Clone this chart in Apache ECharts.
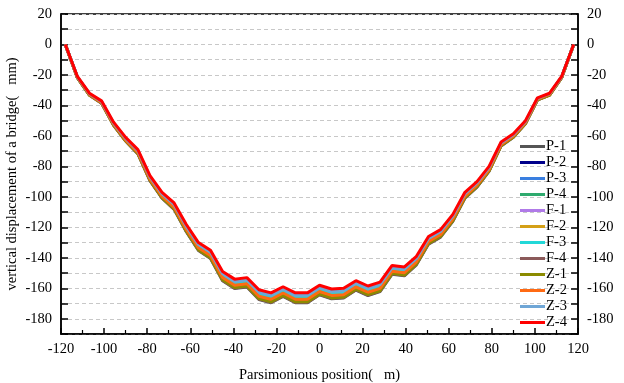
<!DOCTYPE html>
<html>
<head>
<meta charset="utf-8">
<script src="https://cdn.jsdelivr.net/npm/echarts@6/dist/echarts.min.js"></script>
<style>
  html, body { margin: 0; padding: 0; background: #fff; }
  #mychart { width: 624px; height: 383px; }
</style>
</head>
<body>
<div id="mychart"></div>
<script>
// position along the bridge (m)
const positions = [-118, -112.4, -106.8, -101.2, -95.6, -90, -84.3, -78.7, -73.1, -67.5, -61.9, -56.2, -50.6, -45, -39.4, -33.7, -28.1, -22.5, -16.9, -11.2, -5.6, 0, 5.6, 11.2, 16.9, 22.5, 28.1, 33.7, 39.4, 45, 50.6, 56.2, 61.9, 67.5, 73.1, 78.7, 84.3, 90, 95.6, 101.2, 106.8, 112.4, 118]

const seriesNames = ['P-1', 'P-2', 'P-3', 'P-4', 'F-1', 'F-2', 'F-3', 'F-4', 'Z-1', 'Z-2', 'Z-3', 'Z-4']
const seriesColors = ['#555555', '#00008b', '#3a7fe0', '#2eaa6e', '#b07ae8', '#d4a017', '#22d8d8', '#8b5a5a', '#8b8b00', '#ff6a13', '#6fa6d6', '#ff0000']

// vertical displacement (mm)
const p1 = [0, -21.8, -33.3, -38.5, -53.0, -63.4, -71.8, -89.4, -100.9, -108.2, -122.7, -135.2, -140.4, -155.0, -160.2, -159.1, -167.4, -169.5, -165.4, -169.5, -169.5, -164.3, -166.9, -166.4, -161.2, -164.8, -162.2, -150.8, -151.8, -144.6, -131.0, -126.4, -116.0, -100.9, -93.6, -83.2, -66.6, -60.9, -52.0, -36.4, -33.3, -21.8, 0]
const p2 = [0, -21.5, -32.7, -37.8, -52.1, -62.3, -70.5, -87.9, -99.1, -106.3, -120.6, -132.9, -138.0, -152.3, -157.4, -156.4, -164.5, -166.6, -162.5, -166.6, -166.6, -161.5, -164.0, -163.5, -158.4, -162.0, -159.4, -148.2, -149.2, -142.1, -128.8, -124.2, -114.0, -99.1, -92.0, -81.8, -65.4, -59.9, -51.1, -35.8, -32.7, -21.5, 0]
const p3 = [0, -21.4, -32.6, -37.7, -52.0, -62.2, -70.4, -87.7, -98.9, -106.1, -120.4, -132.6, -137.7, -152.0, -157.1, -156.1, -164.2, -166.3, -162.2, -166.3, -166.3, -161.2, -163.7, -163.2, -158.1, -161.7, -159.1, -147.9, -148.9, -141.8, -128.5, -123.9, -113.7, -98.9, -91.8, -81.6, -65.3, -59.8, -51.0, -35.7, -32.6, -21.4, 0]
const p4 = [0, -21.6, -32.9, -38.0, -52.4, -62.7, -70.9, -88.4, -99.7, -106.9, -121.3, -133.6, -138.8, -153.2, -158.3, -157.3, -165.5, -167.6, -163.5, -167.6, -167.6, -162.4, -165.0, -164.5, -159.3, -162.9, -160.4, -149.1, -150.1, -142.9, -129.5, -124.9, -114.6, -99.7, -92.5, -82.2, -65.8, -60.2, -51.4, -36.0, -32.9, -21.6, 0]
const f1 = [0, -21.5, -32.8, -37.9, -52.2, -62.5, -70.7, -88.1, -99.3, -106.5, -120.8, -133.1, -138.2, -152.6, -157.7, -156.7, -164.9, -166.9, -162.8, -166.9, -166.9, -161.8, -164.4, -163.8, -158.7, -162.3, -159.7, -148.5, -149.5, -142.3, -129.0, -124.4, -114.2, -99.3, -92.2, -81.9, -65.5, -60.0, -51.2, -35.8, -32.8, -21.5, 0]
const f2 = [0, -21.7, -33.1, -38.3, -52.7, -63.1, -71.3, -88.9, -100.3, -107.5, -122.0, -134.4, -139.6, -154.1, -159.2, -158.2, -166.5, -168.5, -164.4, -168.5, -168.5, -163.4, -166.0, -165.4, -160.3, -163.9, -161.3, -149.9, -151.0, -143.7, -130.3, -125.6, -115.3, -100.3, -93.1, -82.7, -66.2, -60.6, -51.7, -36.2, -33.1, -21.7, 0]
const f3 = [0, -21.3, -32.5, -37.6, -51.8, -62.0, -70.1, -87.4, -98.6, -105.7, -119.9, -132.1, -137.2, -151.4, -156.5, -155.4, -163.6, -165.6, -161.5, -165.6, -165.6, -160.5, -163.1, -162.6, -157.5, -161.0, -158.5, -147.3, -148.3, -141.2, -128.0, -123.4, -113.3, -98.6, -91.4, -81.3, -65.0, -59.5, -50.8, -35.6, -32.5, -21.3, 0]
const f4 = [0, -21.8, -33.2, -38.4, -52.9, -63.3, -71.6, -89.3, -100.7, -108.0, -122.5, -134.9, -140.1, -154.7, -159.9, -158.8, -167.1, -169.2, -165.0, -169.2, -169.2, -164.0, -166.6, -166.1, -160.9, -164.5, -161.9, -150.5, -151.5, -144.3, -130.8, -126.1, -115.7, -100.7, -93.4, -83.0, -66.4, -60.8, -51.9, -36.3, -33.2, -21.8, 0]
const z1 = [0, -21.8, -33.2, -38.3, -52.8, -63.2, -71.5, -89.1, -100.5, -107.7, -122.2, -134.7, -139.9, -154.4, -159.5, -158.5, -166.8, -168.9, -164.7, -168.9, -168.9, -163.7, -166.3, -165.8, -160.6, -164.2, -161.6, -150.2, -151.3, -144.0, -130.5, -125.9, -115.5, -100.5, -93.2, -82.9, -66.3, -60.7, -51.8, -36.3, -33.2, -21.8, 0]
const z2 = [0, -21.5, -32.8, -38.0, -52.3, -62.6, -70.8, -88.2, -99.5, -106.7, -121.1, -133.4, -138.5, -152.9, -158.0, -157.0, -165.2, -167.2, -163.1, -167.2, -167.2, -162.1, -164.7, -164.2, -159.0, -162.6, -160.1, -148.8, -149.8, -142.6, -129.3, -124.7, -114.4, -99.5, -92.3, -82.1, -65.7, -60.1, -51.3, -35.9, -32.8, -21.5, 0]
const z3 = [0, -21.2, -32.3, -37.4, -51.5, -61.6, -69.7, -86.9, -98.0, -105.0, -119.2, -131.3, -136.4, -150.5, -155.5, -154.5, -162.6, -164.6, -160.6, -164.6, -164.6, -159.6, -162.1, -161.6, -156.6, -160.1, -157.6, -146.5, -147.5, -140.4, -127.3, -122.7, -112.6, -98.0, -90.9, -80.8, -64.6, -59.2, -50.5, -35.4, -32.3, -21.2, 0]
const z4 = [0, -21, -32, -37, -51, -61, -69, -86, -97, -104, -118, -130, -135, -149, -154, -153, -161, -163, -159, -163, -163, -158, -160.5, -160, -155, -158.5, -156, -145, -146, -139, -126, -121.5, -111.5, -97, -90, -80, -64, -58.6, -50, -35, -32, -21, 0]

const seriesValues = [p1, p2, p3, p4, f1, f2, f3, f4, z1, z2, z3, z4]

const font = 'Liberation Serif'
const fontSize = 14.5

function yAxisOf (position) {
  return {
    type: 'value',
    position: position,
    min: -190,
    max: 20,
    interval: 10,
    axisLine: { show: true, onZero: false, lineStyle: { color: '#000', width: 1.5 } },
    axisTick: { show: true, inside: true, length: 7, lineStyle: { color: '#000', width: 1.5 } },
    axisLabel: {
      color: '#000',
      fontFamily: font,
      fontSize: fontSize,
      margin: 9,
      formatter: function (v) { return v % 20 === 0 ? String(v) : '' }
    },
    splitLine: position === 'left'
      ? { show: true, lineStyle: { color: '#c8c8c8', type: [4, 3], width: 1 } }
      : { show: false }
  }
}

let myChart = echarts.init(document.getElementById('mychart'))
myChart.setOption({
  animation: false,
  color: seriesColors,
  grid: {
    left: 61,
    right: 46,
    top: 14,
    bottom: 49,
    outerBoundsMode: 'none',
    show: true,
    borderColor: '#000',
    borderWidth: 1.5
  },
  legend: {
    orient: 'vertical',
    left: 515,
    top: 134,
    itemWidth: 25,
    itemHeight: 3,
    itemGap: 1,
    icon: 'rect',
    textStyle: { color: '#000', fontFamily: font, fontSize: fontSize, lineHeight: 13, padding: [0, 0, 0, -4] },
    data: seriesNames
  },
  xAxis: {
    type: 'value',
    min: -120,
    max: 120,
    interval: 20,
    name: 'Parsimonious position(   m)',
    nameLocation: 'middle',
    nameGap: 34,
    nameTextStyle: { color: '#000', fontFamily: font, fontSize: fontSize },
    axisLine: { show: true, onZero: false, lineStyle: { color: '#000', width: 1.5 } },
    axisTick: { show: true, inside: true, length: 6, lineStyle: { color: '#000', width: 1.5 } },
    minorTick: { show: true, splitNumber: 2, length: 4, lineStyle: { color: '#000', width: 1.2 } },
    axisLabel: { color: '#000', fontFamily: font, fontSize: fontSize, margin: 8 },
    splitLine: { show: false }
  },
  yAxis: [
    Object.assign(yAxisOf('left'), {
      name: 'vertical displacement of a bridge(   mm)',
      nameLocation: 'middle',
      nameGap: 41,
      nameMoveOverlap: false,
      nameTextStyle: { color: '#000', fontFamily: font, fontSize: fontSize }
    }),
    yAxisOf('right')
  ],
  series: seriesNames.map((name, i) => ({
    name: name,
    type: 'line',
    symbol: 'none',
    lineStyle: { width: 3, color: seriesColors[i] },
    itemStyle: { color: seriesColors[i] },
    data: positions.map((x, j) => [x, seriesValues[i][j]])
  }))
})
</script>
</body>
</html>
